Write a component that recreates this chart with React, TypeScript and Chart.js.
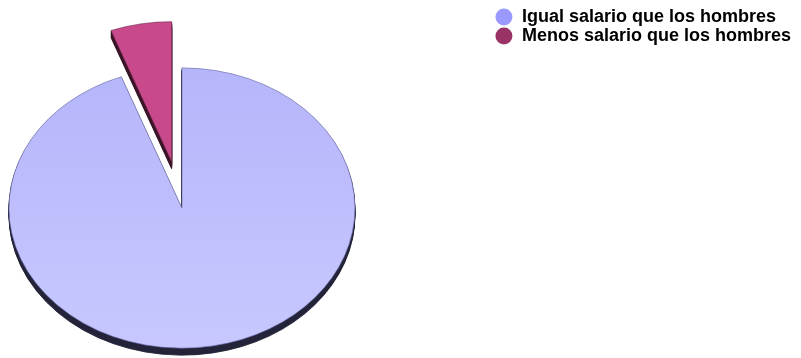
import React, { useEffect, useRef } from 'react';
import { Chart, registerables, layouts } from 'chart.js';

Chart.register(...registerables);

// ---- data ----
const labels = ['Igual salario que los hombres', 'Menos salario que los hombres'];
const values = [94.3, 5.7];

// ---- styles ----
const faceColors = ['#bdbdfd', '#c84a8c'];
const faceGradient = ['#b5b5fb', '#c8c8ff'];
const edgeColors = ['rgba(110,110,170,0.7)', 'rgba(120,40,80,0.7)'];
const sideColors = ['#23233a', '#3a1427'];
const legendColors = ['#9999ff', '#993366'];
const explode = [0, 58];
const TILT = 0.81;
const DEPTH = 7;
const SPACER_RIGHT = 130;
const SPACER_TOP = 51;

const makeSpacer = (position: string, size: number) => ({
  position,
  weight: 0,
  fullSize: false,
  options: {},
  width: 0,
  height: 0,
  left: 0,
  top: 0,
  right: 0,
  bottom: 0,
  isHorizontal() {
    return position === 'top' || position === 'bottom';
  },
  update(this: any, maxWidth: number, maxHeight: number) {
    if (this.isHorizontal()) {
      this.width = maxWidth;
      this.height = size;
    } else {
      this.width = size;
      this.height = maxHeight;
    }
  },
  draw() {},
});

const spacers = {
  id: 'spacers',
  beforeInit(chart: any) {
    (layouts as any).addBox(chart, makeSpacer('right', SPACER_RIGHT));
    (layouts as any).addBox(chart, makeSpacer('top', SPACER_TOP));
  },
};

const pie3d = {
  id: 'pie3d',
  beforeDatasetsDraw(chart: any) {
    const meta = chart.getDatasetMeta(0);
    const arcs = meta.data as any[];
    const ctx = chart.ctx as CanvasRenderingContext2D;
    const drawArc = (el: any, i: number, dy: number, color: string | null) => {
      const mid = (el.startAngle + el.endAngle) / 2;
      const e = explode[i] || 0;
      ctx.save();
      ctx.translate(el.x, el.y + dy);
      ctx.scale(1, TILT);
      ctx.translate(-el.x + Math.cos(mid) * e, -el.y + Math.sin(mid) * e);
      if (color) {
        const orig = el.options;
        el.options = { ...orig, backgroundColor: color, borderColor: color };
        el.draw(ctx);
        el.options = orig;
      } else {
        el.draw(ctx);
      }
      ctx.restore();
    };
    for (let d = DEPTH; d >= 1; d--) arcs.forEach((el, i) => drawArc(el, i, d, sideColors[i]));
    arcs.forEach((el, i) => drawArc(el, i, 0, null));
    return false;
  },
};

export default function App() {
  const ref = useRef<HTMLCanvasElement | null>(null);
  useEffect(() => {
    if (!ref.current) return;
    const chart = new Chart(ref.current, {
      type: 'pie',
      data: {
        labels,
        datasets: [
          {
            data: values,
            backgroundColor: (c: any) => {
              const i = c.dataIndex;
              const area = c.chart.chartArea;
              if (i !== 0 || !area) return faceColors[i];
              const el = c.chart.getDatasetMeta(0).data[0];
              const cy = (area.top + area.bottom) / 2;
              const r = (el && el.outerRadius) || 173;
              const g = c.chart.ctx.createLinearGradient(0, cy - r, 0, cy + r);
              g.addColorStop(0, faceGradient[0]);
              g.addColorStop(1, faceGradient[1]);
              return g;
            },
            borderColor: edgeColors,
            borderWidth: 1,
            radius: 173,
          } as any,
        ],
      },
      options: {
        animation: false,
        responsive: true,
        maintainAspectRatio: false,
        layout: { padding: { left: 0, top: 7, right: 0, bottom: 0 } },
        plugins: {
          legend: {
            position: 'right',
            align: 'start',
            maxWidth: 420,
            labels: {
              usePointStyle: true,
              pointStyle: 'circle',
              boxWidth: 18,
              boxHeight: 12,
              padding: 1,
              color: '#000',
              font: { family: '"Liberation Sans", Arial, sans-serif', size: 18, weight: 'bold' },
              generateLabels: (c: any) => {
                const items = (Chart as any).overrides.doughnut.plugins.legend.labels.generateLabels(c);
                return items.map((it: any, i: number) => ({
                  ...it,
                  fillStyle: legendColors[i],
                  strokeStyle: legendColors[i],
                  lineWidth: 0,
                }));
              },
            },
          },
          tooltip: { enabled: false },
        },
      } as any,
      plugins: [spacers as any, pie3d as any],
    });
    return () => chart.destroy();
  }, []);
  return (
    <div style={{ position: 'fixed', left: 0, top: 0, width: 801, height: 358 }}>
      <canvas ref={ref} />
    </div>
  );
}
